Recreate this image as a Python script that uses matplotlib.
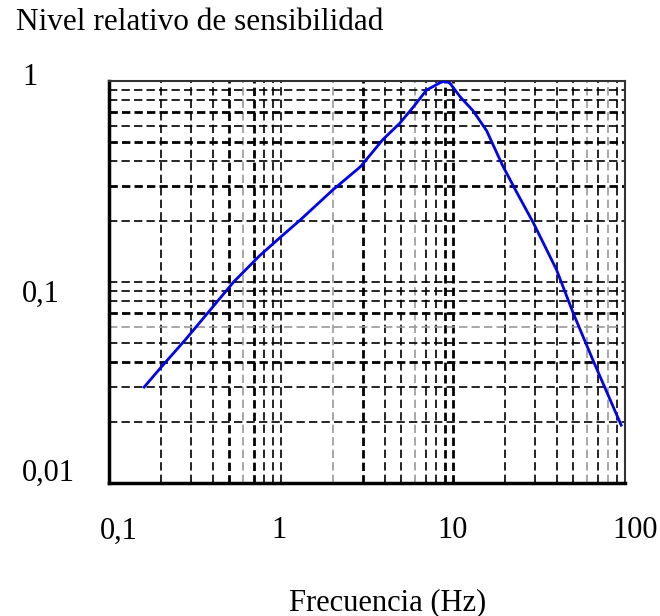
import numpy as np
import matplotlib.pyplot as plt
from matplotlib.ticker import FixedLocator, NullFormatter
from matplotlib.transforms import ScaledTranslation

# Curva de sensibilidad (frecuencia en Hz, nivel relativo)
frecuencia = [0.16, 0.2, 0.28, 0.39, 0.53, 0.75, 1.0, 1.29, 2.0, 2.9,
              3.9, 4.9, 5.9, 7.0, 8.4, 9.0, 9.6, 11.0, 13.1, 15.7,
              19.5, 23.6, 29.4, 40.0, 50.0, 65.0, 95.0]
nivel = [0.030, 0.0375, 0.052, 0.073, 0.100, 0.135, 0.168, 0.203, 0.287, 0.375,
         0.510, 0.616, 0.745, 0.900, 0.980, 1.000, 0.975, 0.835, 0.710, 0.565,
         0.377, 0.277, 0.196, 0.115, 0.070, 0.041, 0.0194]

x_ticks = [0.1, 1, 10, 100]
x_tick_labels = ['0,1', '1', '10', '100']
y_ticks = [0.01, 0.1, 1]
y_tick_labels = ['0,01', '0,1', '1']

plt.rcParams['font.family'] = ['Liberation Serif', 'DejaVu Serif']
plt.rcParams['lines.scale_dashes'] = False

fig = plt.figure(figsize=(6.6, 6.16), dpi=100, facecolor='white')
ax = fig.add_axes([109 / 660, 1 - 483 / 616, 516 / 660, 402 / 616])
ax.set_xscale('log')
ax.set_yscale('log')
ax.set_xlim(0.1, 100)
ax.set_ylim(0.01, 1)

# rejilla discontinua en cada subdivisión logarítmica
x_grid = [m * 10.0 ** e for e in (-1, 0, 1) for m in range(1, 10)][1:]
y_grid = [m * 10.0 ** e for e in (-2, -1) for m in range(1, 10)][1:]
x_fuertes = {0.5, 0.7, 3, 9, 10}
x_grises = {0.6, 2, 6, 60, 80}
y_fuertes = {0.3, 0.5, 0.7, 0.04, 0.07}
y_grises = {0.06}


def estilo(v, fuertes, grises):
    v = round(v, 4)
    if v in fuertes:
        return dict(color='black', lw=2.0)
    if v in grises:
        return dict(color='#999999', lw=1.2)
    return dict(color='black', lw=1.2)


for v in x_grid:
    ax.axvline(v, ls=(0, (6.0, 3.0)), zorder=1, **estilo(v, x_fuertes, x_grises))
for v in y_grid:
    ax.axhline(v, ls=(0, (6.0, 3.0)), zorder=1, **estilo(v, y_fuertes, y_grises))

ax.plot(frecuencia, nivel, color='#0000ff', lw=2.0, zorder=3)

ax.xaxis.set_major_locator(FixedLocator(x_ticks))
ax.xaxis.set_minor_locator(FixedLocator([]))
ax.set_xticklabels(x_tick_labels)
ax.yaxis.set_major_locator(FixedLocator(y_ticks))
ax.yaxis.set_minor_locator(FixedLocator([]))
ax.yaxis.set_minor_formatter(NullFormatter())
ax.set_yticklabels(y_tick_labels)
ax.tick_params(axis='x', length=0, pad=24, labelsize=22)
ax.tick_params(axis='y', length=0, pad=62.5, labelsize=22)
for lab in ax.get_yticklabels():
    lab.set_horizontalalignment('left')

# pequeños desplazamientos de las etiquetas como en el original (en píxeles)
desp_x = [10, -1.5, 0, 10]
desp_y = [13, -9, 7]
for lab, dx in zip(ax.get_xticklabels(), desp_x):
    lab.set_transform(lab.get_transform() + ScaledTranslation(dx / 100, 0, fig.dpi_scale_trans))
for lab, dy in zip(ax.get_yticklabels(), desp_y):
    lab.set_transform(lab.get_transform() + ScaledTranslation(0, dy / 100, fig.dpi_scale_trans))

for lado in ('bottom', 'left'):
    ax.spines[lado].set_linewidth(2.5)
for lado in ('top', 'right'):
    ax.spines[lado].set_linewidth(1.5)
    ax.spines[lado].set_color('#333333')

ax.set_xlabel('Frecuencia (Hz)', fontsize=22, va='baseline')
ax.xaxis.set_label_coords((388 - 109) / 516, (483 - 610) / 402)

fig.text(16 / 660, 1 - 30 / 616, 'Nivel relativo de sensibilidad',
         fontsize=22.5, ha='left', va='baseline')

fig.savefig('out.png', dpi=100, facecolor='white')
